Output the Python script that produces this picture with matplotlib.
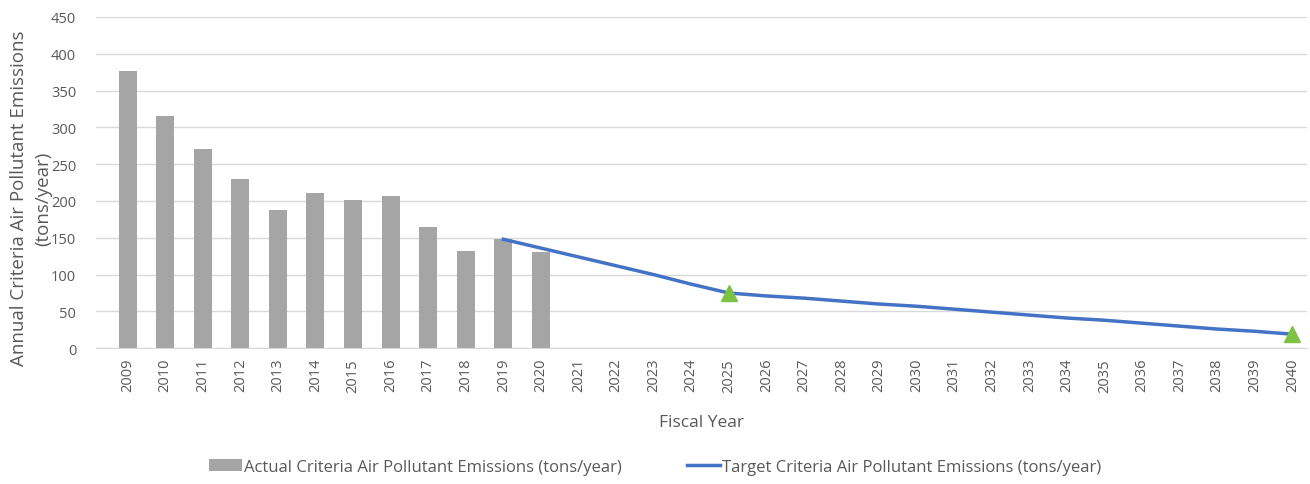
import matplotlib.pyplot as plt
import numpy as np

plt.rcParams['font.family'] = ['Open Sans', 'DejaVu Sans']

years = list(range(2009, 2041))
actual_years = list(range(2009, 2021))
actual = [377, 316, 270, 230, 188, 211, 202, 207, 165, 132, 148, 131]
target_years = list(range(2019, 2041))
target = [148, 136, 124, 112, 100, 87, 75, 71, 68, 64, 60, 57, 53, 49, 45,
          41, 38, 34, 30, 26, 23, 19]
marker_years = [2025, 2040]

grey_txt = '#595959'

fig = plt.figure(figsize=(13.1, 4.85), dpi=100)
ax = fig.add_axes([0.073, 0.28, 0.925, 0.683])

xa = [years.index(y) for y in actual_years]
xt = [years.index(y) for y in target_years]
xm = [years.index(y) for y in marker_years]
tm = [target[target_years.index(y)] for y in marker_years]

bars = ax.bar(xa, actual, width=0.48, color='#A5A5A5', zorder=2,
              label='Actual Criteria Air Pollutant Emissions (tons/year)')
line, = ax.plot(xt, target, color='#4472C4', lw=2.5, zorder=3,
                label='Target Criteria Air Pollutant Emissions (tons/year)')
ax.plot(xm, tm, ls='none', marker='^', ms=11, color='#7DC242', zorder=4)

ax.set_xlim(-0.85, 31.4)
ax.set_ylim(0, 450)
ax.set_yticks(range(0, 451, 50))
ax.set_xticks(range(len(years)))
ax.set_xticklabels([str(y) for y in years], rotation=90)
ax.tick_params(axis='both', colors=grey_txt, labelsize=10.5, length=0)
ax.tick_params(axis='x', pad=7)
ax.tick_params(axis='y', pad=14)
ax.yaxis.grid(True, color='#D9D9D9', lw=1, zorder=0)
for s in ['top', 'right', 'left']:
    ax.spines[s].set_visible(False)
ax.spines['bottom'].set_color('#D9D9D9')

ax.set_xlabel('Fiscal Year', fontsize=12.5, color=grey_txt, labelpad=16)
ax.set_ylabel('Annual Criteria Air Pollutant Emissions\n(tons/year)',
              fontsize=13.5, color=grey_txt, linespacing=1.4)
ax.yaxis.set_label_coords(-0.036, 0.455)

fig.legend([bars, line], [bars.get_label(), line.get_label()],
           loc='center', bbox_to_anchor=(0.5, 0.035), ncol=2, frameon=False,
           fontsize=12, labelcolor=grey_txt, handlelength=2.0,
           handletextpad=0.1, columnspacing=3.9)

fig.savefig('out.png', dpi=100)
